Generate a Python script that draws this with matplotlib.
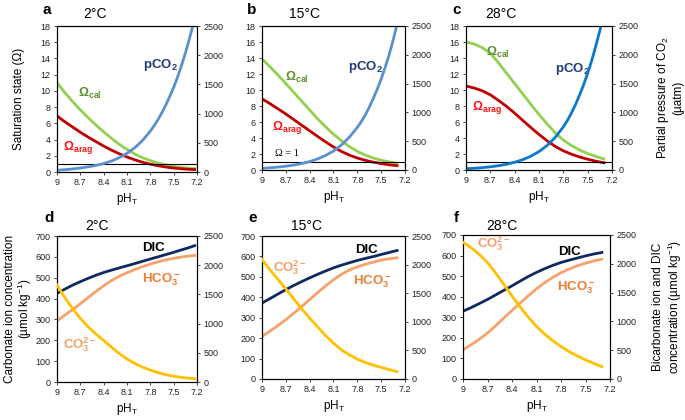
import matplotlib
matplotlib.use('Agg')
import matplotlib.pyplot as plt

plt.rcParams['font.family'] = ['Liberation Sans', 'DejaVu Sans']
plt.rcParams['mathtext.fontset'] = 'custom'
plt.rcParams['mathtext.rm'] = 'Liberation Sans'
plt.rcParams['mathtext.bf'] = 'Liberation Sans:bold'
plt.rcParams['mathtext.it'] = 'Liberation Sans:italic'

# pH grids (x values)
ph_2 = [9.0, 8.9, 8.8, 8.7, 8.6, 8.5, 8.4, 8.3, 8.2, 8.1, 8.0, 7.9, 7.8, 7.7, 7.6, 7.5, 7.4, 7.3, 7.23]
ph_15 = [9.0, 8.9, 8.8, 8.7, 8.6, 8.5, 8.4, 8.3, 8.2, 8.1, 8.0, 7.9, 7.8, 7.7, 7.6, 7.5, 7.4, 7.3]
ph_28 = [9.0, 8.9, 8.8, 8.7, 8.6, 8.5, 8.4, 8.3, 8.2, 8.1, 8.0, 7.9, 7.8, 7.7, 7.6, 7.5, 7.4, 7.3]
# pCO2 read at finer steps where it climbs fast
ph_pco2_2 = [9.0, 8.9, 8.8, 8.7, 8.6, 8.5, 8.4, 8.3, 8.2, 8.1, 8.0, 7.9, 7.8, 7.75, 7.7, 7.65,
             7.6, 7.55, 7.5, 7.45, 7.4, 7.35, 7.3, 7.25]
ph_pco2_15 = [9.0, 8.9, 8.8, 8.7, 8.6, 8.5, 8.4, 8.3, 8.2, 8.1, 8.0, 7.9, 7.8, 7.75, 7.7, 7.65,
              7.6, 7.55, 7.5, 7.45, 7.4, 7.35, 7.3]
ph_pco2_28 = ph_pco2_15

# saturation states (left axis) and pCO2 (right axis, uatm)
cal_2 = [11.0, 9.8, 8.7, 7.65, 6.7, 5.8, 4.95, 4.15, 3.42, 2.78, 2.22, 1.76, 1.4, 1.1, 0.88, 0.7, 0.57, 0.47, 0.43]
arag_2 = [6.9, 6.2, 5.55, 4.9, 4.3, 3.75, 3.2, 2.7, 2.25, 1.85, 1.5, 1.2, 0.96, 0.77, 0.61, 0.49, 0.4, 0.33, 0.3]
pco2_2 = [30, 40, 52, 68, 88, 113, 145, 187, 245, 320, 415, 540, 700, 795, 900, 1020,
          1150, 1295, 1450, 1625, 1820, 2035, 2270, 2520]

cal_15 = [13.9, 12.9, 11.9, 10.8, 9.7, 8.6, 7.5, 6.4, 5.4, 4.48, 3.65, 2.93, 2.33, 1.86, 1.5, 1.22, 1.01, 0.86]
arag_15 = [8.9, 8.3, 7.65, 7.0, 6.3, 5.6, 4.9, 4.2, 3.52, 2.88, 2.32, 1.86, 1.5, 1.21, 0.98, 0.8, 0.65, 0.55]
pco2_15 = [28, 38, 50, 66, 86, 112, 146, 192, 252, 330, 435, 570, 740, 840, 955, 1090,
           1240, 1400, 1580, 1780, 2000, 2250, 2530]

cal_28 = [16.0, 15.75, 15.3, 14.6, 13.4, 12.1, 10.8, 9.5, 8.2, 6.95, 5.75, 4.65, 3.75, 3.05, 2.5, 2.05, 1.7, 1.38]
arag_28 = [10.5, 10.25, 9.9, 9.4, 8.7, 7.95, 7.1, 6.2, 5.3, 4.45, 3.65, 2.95, 2.4, 1.97, 1.63, 1.35, 1.1, 0.9]
pco2_28 = [22, 30, 41, 55, 75, 100, 135, 180, 240, 320, 425, 565, 750, 860, 990, 1135,
           1300, 1480, 1680, 1900, 2150, 2420, 2720]

# carbonate ion (left axis) and bicarbonate / DIC (right axis), umol/kg
co3_2 = [465, 405, 352, 305, 265, 230, 199, 167, 137, 110, 89, 71, 57, 45, 35, 28, 22, 18, 16]
hco3_2 = [1045, 1145, 1240, 1340, 1445, 1550, 1648, 1736, 1810, 1870, 1925, 1975, 2020, 2058, 2090, 2118, 2140, 2158, 2168]
dic_2 = [1518, 1590, 1658, 1718, 1775, 1828, 1875, 1915, 1953, 1990, 2028, 2067, 2106, 2144, 2182, 2221, 2262, 2302, 2335]

co3_15 = [585, 535, 488, 441, 392, 343, 298, 255, 213, 175, 143, 118, 97, 81, 68, 57, 46, 36]
hco3_15 = [743, 838, 935, 1036, 1150, 1268, 1387, 1510, 1628, 1735, 1830, 1905, 1961, 2005, 2043, 2079, 2102, 2119]
dic_15 = [1329, 1405, 1485, 1563, 1635, 1703, 1768, 1830, 1888, 1943, 1990, 2032, 2072, 2108, 2140, 2177, 2212, 2247]

co3_28 = [665, 638, 605, 566, 515, 460, 403, 350, 300, 256, 218, 186, 158, 133, 112, 93, 76, 60]
hco3_28 = [506, 595, 690, 797, 925, 1060, 1190, 1320, 1445, 1565, 1672, 1765, 1845, 1910, 1965, 2010, 2050, 2080]
dic_28 = [1177, 1240, 1310, 1381, 1460, 1540, 1617, 1700, 1780, 1851, 1915, 1973, 2023, 2063, 2100, 2137, 2170, 2197]

omega_one = 1
ph_ticks = [9, 8.7, 8.4, 8.1, 7.8, 7.5, 7.2]
ph_ticklabels = ['9', '8.7', '8.4', '8.1', '7.8', '7.5', '7.2']
omega_ticks = list(range(0, 19, 2))
pco2_ticks = list(range(0, 2501, 500))
co3_ticks = list(range(0, 701, 100))
dic_ticks = list(range(0, 2501, 500))

c_cal = '#92D050'
c_cal_txt = '#5B8E2D'
c_arag = '#C00000'
c_arag_txt = '#FF1010'
c_pco2_ab = '#5B90CC'
c_pco2_c = '#0A78CC'
c_pco2_txt = '#1F3A78'
c_dic = '#0E2A60'
c_hco3 = '#F6A26A'
c_hco3_txt = '#EE7D30'
c_co3 = '#FFC000'
c_co3_txt = '#F4A066'

W, H = 685, 420
fig = plt.figure(figsize=(W / 100, H / 100), dpi=100)


def box(l, r, t, b):
    return [l / W, 1 - b / H, (r - l) / W, (b - t) / H]


def style(ax, ax2):
    ax.set_xlim(9, 7.2)
    ax.set_xticks(ph_ticks)
    ax.set_xticklabels(ph_ticklabels)
    for a in (ax, ax2):
        a.tick_params(labelsize=6.5, length=2.5, width=0.6, pad=2, colors='#222222')
        for s in a.spines.values():
            s.set_linewidth(0.8)
    ax.set_xlabel(r'pH$_\mathregular{T}$', fontsize=8.5, labelpad=3)


def top_panel(rect, ph, cal, arag, ph_p, pco2, pco2_color, letter, title, lab, tx):
    ax = fig.add_axes(box(*rect))
    ax2 = ax.twinx()
    ax.plot(ph, cal, color=c_cal, lw=2)
    ax.plot(ph, arag, color=c_arag, lw=2)
    ax.axhline(omega_one, color='black', lw=0.8)
    ax2.plot(ph_p, pco2, color=pco2_color, lw=2)
    ax.set_ylim(0, 18)
    ax.set_yticks(omega_ticks)
    ax2.set_ylim(0, 2500)
    ax2.set_yticks(pco2_ticks)
    style(ax, ax2)
    ax.text(lab['cal'][0], lab['cal'][1], r'$\mathbf{Ω_{cal}}$', color=c_cal_txt, fontsize=9, va='center')
    ax.text(lab['arag'][0], lab['arag'][1], r'$\mathbf{Ω_{arag}}$', color=c_arag_txt, fontsize=9, va='center')
    ax.text(lab['pco2'][0], lab['pco2'][1], r'$\mathbf{pCO_2}$', color=c_pco2_txt, fontsize=9.5, va='center')
    fig.text(tx[0] / W, 1 - 10 / H, letter, fontsize=11, fontweight='bold', ha='center', va='center')
    fig.text(tx[1] / W, 1 - 14 / H, title, fontsize=10, ha='center', va='center')
    return ax, ax2


def bottom_panel(rect, ph, co3, hco3, dic, letter, title, lab, tx):
    ax = fig.add_axes(box(*rect))
    ax2 = ax.twinx()
    ax.plot(ph, co3, color=c_co3, lw=2, zorder=3)
    ax2.plot(ph, hco3, color=c_hco3, lw=2)
    ax2.plot(ph, dic, color=c_dic, lw=2)
    ax.set_zorder(ax2.get_zorder() + 1)
    ax.patch.set_visible(False)
    ax.set_ylim(0, 700)
    ax.set_yticks(co3_ticks)
    ax2.set_ylim(0, 2500)
    ax2.set_yticks(dic_ticks)
    style(ax, ax2)
    ax.text(lab['dic'][0], lab['dic'][1], 'DIC', color='black', fontsize=9.5, fontweight='bold', va='center')
    ax.text(lab['hco3'][0], lab['hco3'][1], r'$\mathbf{HCO_3^-}$', color=c_hco3_txt, fontsize=9.5, va='center')
    ax.text(lab['co3'][0], lab['co3'][1], r'$\mathbf{CO_3^{2-}}$', color=c_co3_txt, fontsize=9.5, va='center')
    fig.text(tx[0] / W, 1 - 218 / H, letter, fontsize=11, fontweight='bold', ha='center', va='center')
    fig.text(tx[1] / W, 1 - 226 / H, title, fontsize=10, ha='center', va='center')
    return ax, ax2


axa, axa2 = top_panel((57, 197, 26, 172), ph_2, cal_2, arag_2, ph_pco2_2, pco2_2, c_pco2_ab, 'a', '2°C',
                      {'cal': (8.73, 9.7), 'arag': (8.92, 3.0), 'pco2': (7.9, 13.2)}, (47, 95))
axa.set_ylabel('Saturation state (Ω)', fontsize=8.5)
axa.yaxis.set_label_coords(-0.23, 0.5)

axb, axb2 = top_panel((262, 405, 26, 170), ph_15, cal_15, arag_15, ph_pco2_15, pco2_15, c_pco2_ab, 'b', '15°C',
                      {'cal': (8.71, 11.6), 'arag': (8.87, 5.3), 'pco2': (7.92, 12.9)}, (252, 304))
axb.text(8.84, 2.1, 'Ω = 1', fontsize=7.5, family='Liberation Serif', va='center')

axc, axc2 = top_panel((466, 612, 26, 170), ph_28, cal_28, arag_28, ph_pco2_28, pco2_28, c_pco2_c, 'c', '28°C',
                      {'cal': (8.75, 14.7), 'arag': (8.93, 7.8), 'pco2': (7.9, 12.6)}, (457, 501))
axc2.set_ylabel('Partial pressure of CO$_2$\n(µatm)', fontsize=8.5, linespacing=1.1)
axc2.yaxis.set_label_coords(1.295, 0.5)

axd, axd2 = bottom_panel((57, 197, 236, 382), ph_2, co3_2, hco3_2, dic_2, 'd', '2°C',
                         {'dic': (7.9, 642), 'hco3': (7.91, 489), 'co3': (8.92, 177)}, (49, 97))
axd.set_ylabel('Carbonate ion concentration\n(µmol kg$^{-1}$)', fontsize=8.5, linespacing=1.0)
axd.yaxis.set_label_coords(-0.165, 0.5)

axe, axe2 = bottom_panel((262, 405, 236, 379), ph_15, co3_15, hco3_15, dic_15, 'e', '15°C',
                         {'dic': (7.83, 631), 'hco3': (7.86, 477), 'co3': (8.86, 543)}, (253, 306))

axf, axf2 = bottom_panel((463, 610, 235, 379), ph_28, co3_28, hco3_28, dic_28, 'f', '28°C',
                         {'dic': (7.84, 617), 'hco3': (7.85, 442), 'co3': (8.83, 656)}, (456, 502))
axf2.set_ylabel('Bicarbonate ion and DIC\nconcentration (µmol kg$^{-1}$)', fontsize=8.5, linespacing=1.1)
axf2.yaxis.set_label_coords(1.286, 0.5)

fig.savefig('out.png', dpi=100)
